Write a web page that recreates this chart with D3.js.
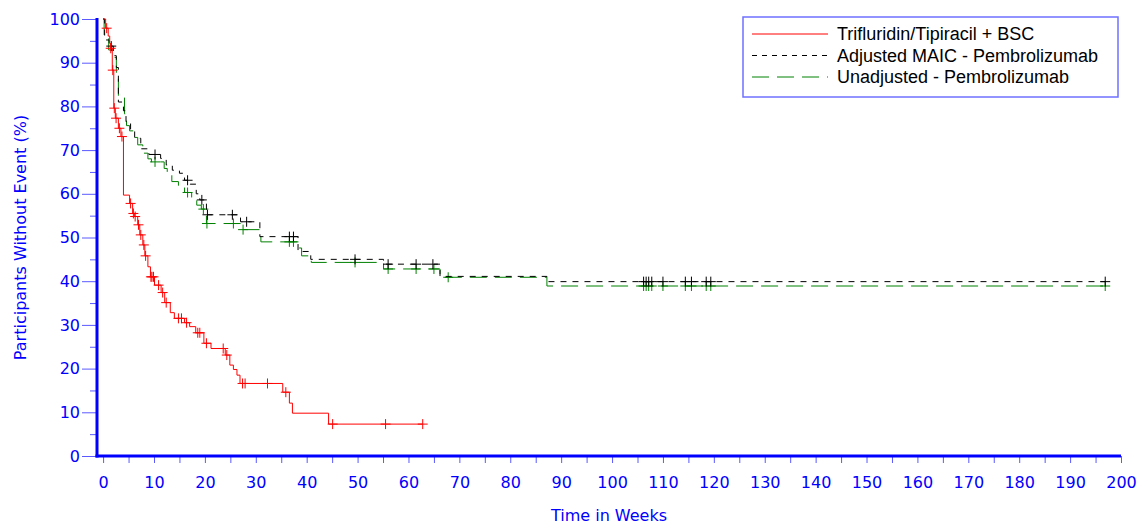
<!DOCTYPE html>
<html lang="en">
<head>
<meta charset="UTF-8">
<title>Kaplan-Meier: Participants Without Event</title>
<script src="https://d3js.org/d3.v7.min.js"></script>
<style>
  body { margin: 0; background: #fff; }
  svg { display: block; }
  .tick text { font-family: "DejaVu Sans", sans-serif; font-size: 16px; fill: #0000ff; }
  .tick line { stroke: #5a5aff; }
  .title { font-family: "DejaVu Sans", sans-serif; font-size: 16px; fill: #0000ff; }
  .legend text { font-family: "Liberation Sans", Arial, sans-serif; font-size: 18px; fill: #000; }
</style>
</head>
<body>
<svg width="1139" height="524"></svg>
<script>
// ---- data (weeks, % without event) ----
const seriesNames = ["Trifluridin/Tipiracil + BSC", "Adjusted MAIC - Pembrolizumab", "Unadjusted - Pembrolizumab"];

const redTimes = [0, 0.5, 1.0, 1.3, 1.5, 1.8, 2.1, 2.4, 3.0, 3.5, 4.0, 5.2, 5.8, 6.2, 6.8, 7.2, 7.8, 8.2, 8.8, 9.3,
  10.1, 11.4, 12.1, 13.2, 14.0, 16.0, 17.0, 18.2, 19.8, 21.2, 24.0, 24.9, 25.6, 26.3, 26.9, 35.3, 36.6, 37.2, 44.3];
const redSurv = [100, 97.9, 96.1, 94.4, 93.3, 88.3, 79.6, 77.3, 75.0, 73.1, 59.7, 57.8, 55.5, 54.8, 52.9, 50.6, 48.3, 45.8, 43.3, 41.0,
  39.1, 37.4, 35.1, 32.8, 31.5, 30.5, 29.6, 28.2, 25.8, 24.6, 23.1, 20.8, 19.8, 18.5, 16.6, 14.6, 12.1, 9.8, 7.3];
const redCensor = [0.7, 1.5, 1.9, 2.2, 2.55, 3.2, 3.7, 5.4, 5.95, 6.3, 6.95, 7.4, 8.0, 8.35, 9.4, 9.6, 9.9, 10.9, 11.7, 12.4,
  14.8, 15.4, 16.4, 18.6, 19.0, 20.3, 23.6, 24.3, 27.4, 27.9, 32.3, 35.9, 45.1, 55.5, 62.8];
const redEnd = 62.8;

const adjTimes = [0, 0.3, 1.2, 2.0, 2.6, 3.0, 4.0, 4.5, 5.4, 6.2, 7.4, 9.0, 11.3, 12.4, 13.6, 15.0, 16.0, 17.1, 18.3, 19.0,
  20.3, 27.0, 30.8, 38.3, 40.8, 55.1, 66.2, 87.2];
const adjSurv = [100, 95.2, 93.8, 91.6, 88.9, 81.0, 79.0, 76.5, 74.8, 72.7, 70.3, 69.0, 68.1, 66.6, 65.4, 64.7, 63.1, 62.2, 60.0, 58.6,
  55.2, 53.6, 50.2, 46.8, 45.0, 43.9, 41.1, 39.9];
const adjCensor = [1.6, 10.2, 16.6, 19.4, 20.5, 25.4, 28.2, 36.6, 37.4, 49.5, 56.0, 61.5, 64.8,
  106.2, 106.7, 107.2, 107.8, 110.0, 114.4, 115.6, 118.5, 119.4, 196.9];
const adjEnd = 196.9;

const unadjTimes = [0, 0.2, 1.1, 2.0, 2.6, 3.0, 4.2, 4.6, 5.2, 6.0, 6.8, 7.8, 8.8, 9.5, 12.0, 12.6, 13.5, 14.8, 16.0, 17.4,
  18.4, 19.3, 20.0, 20.3, 27.2, 31.0, 38.2, 39.0, 40.9, 55.1, 66.2, 87.2];
const unadjSurv = [100, 95.8, 92.9, 91.2, 87.4, 82.1, 78.3, 75.6, 74.4, 72.9, 71.2, 69.3, 68.0, 67.3, 65.8, 64.7, 62.8, 61.6, 60.3, 58.6,
  57.4, 56.5, 55.1, 53.2, 51.8, 49.0, 47.6, 45.8, 44.3, 42.8, 40.9, 38.9];
const unadjCensor = [10.2, 16.6, 19.7, 20.4, 25.6, 27.5, 36.6, 37.4, 49.5, 56.0, 61.5, 65.0, 67.8,
  106.2, 106.7, 107.2, 107.8, 110.0, 114.4, 115.6, 118.5, 119.4, 196.9];
const unadjEnd = 196.9;

const xTickValues = d3.range(0, 201, 5);
const yMajorTicks = d3.range(0, 101, 10);
const yMinorTicks = d3.range(5, 100, 10);

// ---- layout ----
const svg = d3.select("svg");
const blue = "#0000ff";

const x = d3.scaleLinear().domain([-1.2, 200]).range([97, 1121]);
const y = d3.scaleLinear().domain([0, 100]).range([456, 19]);

// axes
svg.append("g")
  .attr("transform", `translate(0,${y(0)})`)
  .call(d3.axisBottom(x).tickValues(xTickValues).tickSize(7).tickPadding(14)
    .tickFormat(d => d % 10 === 0 ? d : ""))
  .call(g => g.select(".domain").remove());

svg.append("g")
  .attr("transform", `translate(${x(-1.2)},0)`)
  .call(d3.axisLeft(y).tickValues(yMajorTicks).tickSize(15).tickPadding(2))
  .call(g => g.select(".domain").remove());

svg.append("g")
  .attr("transform", `translate(${x(-1.2)},0)`)
  .call(d3.axisLeft(y).tickValues(yMinorTicks).tickSize(7).tickFormat(""))
  .call(g => g.select(".domain").remove());

// thick axis lines
svg.append("line").attr("x1", x(-1.2)).attr("x2", x(-1.2)).attr("y1", y(100) - 1).attr("y2", y(0) + 1.5)
  .attr("stroke", blue).attr("stroke-width", 3);
svg.append("line").attr("x1", x(-1.2) - 1.5).attr("x2", x(200)).attr("y1", y(0)).attr("y2", y(0))
  .attr("stroke", blue).attr("stroke-width", 3);

// titles
svg.append("text").attr("class", "title")
  .attr("x", (x(-1.2) + x(200)) / 2).attr("y", 521)
  .attr("text-anchor", "middle").text("Time in Weeks");
svg.append("text").attr("class", "title")
  .attr("transform", `translate(26,${(y(0) + y(100)) / 2}) rotate(-90)`)
  .attr("text-anchor", "middle").text("Participants Without Event (%)");

// curves
const series = [
  { times: unadjTimes, surv: unadjSurv, censor: unadjCensor, end: unadjEnd, color: "#008000", dash: "17,8" },
  { times: adjTimes, surv: adjSurv, censor: adjCensor, end: adjEnd, color: "#000000", dash: "6,6" },
  { times: redTimes, surv: redSurv, censor: redCensor, end: redEnd, color: "#ff0000", dash: null }
];

const line = d3.line().x(d => x(d[0])).y(d => y(d[1])).curve(d3.curveStepAfter);

function survAt(s, t) {
  const i = d3.bisectRight(s.times, t) - 1;
  return s.surv[Math.max(0, i)];
}

series.forEach(s => {
  const pts = s.times.map((t, i) => [t, s.surv[i]]);
  pts.push([s.end, s.surv[s.surv.length - 1]]);
  svg.append("path")
    .attr("d", line(pts))
    .attr("fill", "none")
    .attr("stroke", s.color)
    .attr("stroke-width", 1)
    .attr("stroke-dasharray", s.dash);

  svg.append("g").selectAll("path")
    .data(s.censor)
    .join("path")
    .attr("d", t => {
      const cx = x(t), cy = y(survAt(s, t));
      return `M${cx - 5},${cy}h10M${cx},${cy - 5}v10`;
    })
    .attr("fill", "none")
    .attr("stroke", s.color)
    .attr("stroke-width", 1);
});

// legend
const legend = svg.append("g").attr("class", "legend");
legend.append("rect").attr("x", 743).attr("y", 17).attr("width", 375).attr("height", 80)
  .attr("fill", "#fff").attr("stroke", "#7070ff").attr("stroke-width", 1.5);
const legendStyles = [
  { color: "#ff0000", dash: null },
  { color: "#000000", dash: "5,5" },
  { color: "#008000", dash: "17,8" }
];
seriesNames.forEach((name, i) => {
  const ly = 34 + i * 21.5;
  legend.append("line").attr("x1", 752).attr("x2", 828).attr("y1", ly).attr("y2", ly)
    .attr("stroke", legendStyles[i].color).attr("stroke-width", 1)
    .attr("stroke-dasharray", legendStyles[i].dash);
  legend.append("text").attr("x", 837).attr("y", ly + 6).text(name);
});
</script>
</body>
</html>
